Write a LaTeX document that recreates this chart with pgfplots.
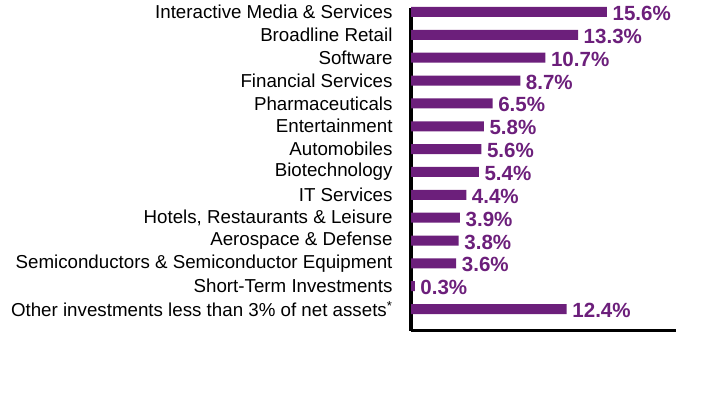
\documentclass[border=0pt]{standalone}
\usepackage{pgfplots}
\pgfplotsset{compat=1.18}
\usepackage{fontspec}
\setmainfont{Liberation Sans}
\definecolor{barpurple}{RGB}{108,31,123}
\begin{document}
\begin{tikzpicture}
\path (0,0) rectangle (708bp,396bp);
\begin{axis}[
  at={(411bp,65bp)}, anchor=south west,
  scale only axis, width=265bp, height=323bp,
  xbar, bar width=10bp,
  xmin=0, xmax=21.1, ymin=-0.96, ymax=13.175,
  axis x line*=bottom, axis y line*=left,
  every outer x axis line/.append style={line width=3bp, -, black},
  every outer y axis line/.append style={line width=3bp, -, black},
  axis line style={line width=3bp, -, black},
  xtick=\empty,
  ytick={0,...,13},
  yticklabels={{Other investments less than 3\% of net assets\textsuperscript{*}},
    {Short-Term Investments},
    {Semiconductors \& Semiconductor Equipment},
    {Aerospace \& Defense},
    {Hotels, Restaurants \& Leisure},
    {IT Services},
    {Biotechnology},
    {Automobiles},
    {Entertainment},
    {Pharmaceuticals},
    {Financial Services},
    {Software},
    {Broadline Retail},
    {Interactive Media \& Services}},
  major tick length=0pt,
  yticklabel style={font=\fontsize{18.8}{20}\selectfont, xshift=-15bp},
  nodes near coords={\pgfmathprintnumber[fixed,fixed zerofill,precision=1,assume math mode=true]{\pgfplotspointmeta}\%},
  nodes near coords style={font=\bfseries\fontsize{20.6}{22}\selectfont, text=barpurple, anchor=west, inner sep=5.5bp, yshift=-1.5bp},
  point meta=x,
  clip=false,
]
\addplot[fill=barpurple, draw=none] coordinates {
  (12.4,0) (0.3,1) (3.6,2) (3.8,3) (3.9,4) (4.4,5) (5.4,6)
  (5.6,7) (5.8,8) (6.5,9) (8.7,10) (10.7,11) (13.3,12) (15.6,13)
};
\end{axis}
\end{tikzpicture}
\end{document}
